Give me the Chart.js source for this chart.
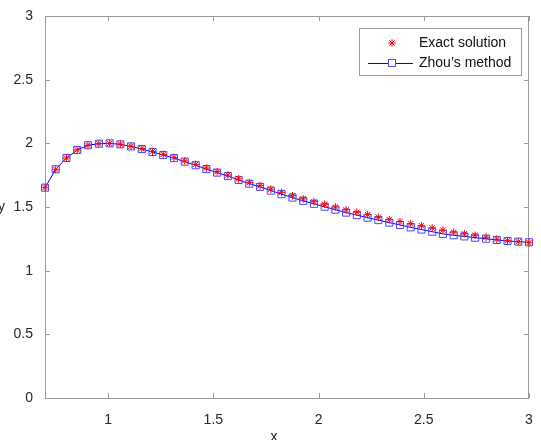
<!DOCTYPE html>
<html>
<head>
<meta charset="utf-8">
<script src="https://cdn.jsdelivr.net/npm/chart.js@4.4.1/dist/chart.umd.min.js"></script>
<style>
    html, body { margin: 0; padding: 0; background: #fff; }
    #wrap { width: 541px; height: 440px; }
</style>
</head>
<body>
<div id="wrap"><canvas id="solChart"></canvas></div>
<script>
// sample points (46 evenly spaced points from 0.7 to 3)
const xValues = [0.700, 0.751, 0.802, 0.853, 0.904, 0.956, 1.007, 1.058, 1.109, 1.160,
    1.211, 1.262, 1.313, 1.364, 1.416, 1.467, 1.518, 1.569, 1.620, 1.671,
    1.722, 1.773, 1.824, 1.876, 1.927, 1.978, 2.029, 2.080, 2.131, 2.182,
    2.233, 2.284, 2.336, 2.387, 2.438, 2.489, 2.540, 2.591, 2.642, 2.693,
    2.744, 2.796, 2.847, 2.898, 2.949, 3.000];

const exactValues = [1.652, 1.796, 1.885, 1.948, 1.985, 1.997, 2.000, 1.993, 1.978, 1.958,
    1.936, 1.913, 1.889, 1.862, 1.835, 1.806, 1.778, 1.751, 1.721, 1.692,
    1.667, 1.640, 1.615, 1.589, 1.564, 1.542, 1.521, 1.500, 1.478, 1.459,
    1.440, 1.420, 1.401, 1.386, 1.369, 1.353, 1.336, 1.318, 1.302, 1.290,
    1.278, 1.262, 1.247, 1.235, 1.227, 1.220];

const zhouValues = [1.652, 1.796, 1.885, 1.948, 1.985, 1.997, 2.000, 1.992, 1.976, 1.955,
    1.932, 1.908, 1.884, 1.856, 1.828, 1.798, 1.770, 1.743, 1.712, 1.683,
    1.658, 1.629, 1.601, 1.574, 1.548, 1.525, 1.502, 1.479, 1.456, 1.436,
    1.416, 1.397, 1.377, 1.359, 1.340, 1.323, 1.306, 1.289, 1.278, 1.269,
    1.259, 1.251, 1.241, 1.233, 1.228, 1.223];

const xTicks = [1, 1.5, 2, 2.5, 3];
const yTicks = [0, 0.5, 1, 1.5, 2, 2.5, 3];
const seriesNames = ['Exact solution', 'Zhou\u2019s method'];
const axisTitles = ['x', 'y'];

const FONT = '"Liberation Sans", Arial, sans-serif';
const FRAME = '#9a9a9a';
const TEXT = '#262626';

function toPoints(ys) {
    return xValues.map((x, i) => ({ x: x, y: ys[i] }));
}

// box around the axes, inward tick marks
const framePlugin = {
    id: 'frame',
    beforeDatasetsDraw(chart) {
        const { ctx, chartArea: a, scales } = chart;
        ctx.save();
        ctx.strokeStyle = FRAME;
        ctx.lineWidth = 1;
        ctx.strokeRect(a.left + 0.5, a.top + 0.5, a.right - a.left - 1, a.bottom - a.top);
        ctx.beginPath();
        scales.x.ticks.forEach(t => {
            const px = Math.round(scales.x.getPixelForValue(t.value)) + 0.5;
            ctx.moveTo(px, a.bottom); ctx.lineTo(px, a.bottom - 5);
            ctx.moveTo(px, a.top); ctx.lineTo(px, a.top + 5);
        });
        scales.y.ticks.forEach(t => {
            const py = Math.round(scales.y.getPixelForValue(t.value)) + 0.5;
            ctx.moveTo(a.left, py); ctx.lineTo(a.left + 5, py);
            ctx.moveTo(a.right, py); ctx.lineTo(a.right - 5, py);
        });
        ctx.stroke();
        ctx.restore();
    },
    afterDraw(chart) {
        const { ctx, chartArea: a } = chart;
        ctx.save();
        // axis titles
        ctx.fillStyle = TEXT;
        ctx.font = '14px ' + FONT;
        ctx.textAlign = 'center';
        ctx.textBaseline = 'alphabetic';
        ctx.fillText(axisTitles[0], 274, 440.5);
        ctx.fillText(axisTitles[1], 1.5, 211);

        // legend box
        const bx = a.right - 170, by = a.top + 12, bw = 162, bh = 47;
        ctx.fillStyle = '#fff';
        ctx.fillRect(bx, by, bw, bh);
        ctx.strokeStyle = FRAME;
        ctx.strokeRect(bx + 0.5, by + 0.5, bw, bh);

        const ds = chart.data.datasets;
        const rows = [by + 15, by + 35];
        const mx = bx + 33;
        // exact solution: star only
        ctx.strokeStyle = ds[0].borderColor;
        ctx.lineWidth = 1;
        Chart.helpers.drawPoint(ctx, { pointStyle: 'star', radius: ds[0].pointRadius, rotation: 0, borderWidth: 1 }, mx, rows[0]);
        // zhou: line + square
        ctx.strokeStyle = ds[1].borderColor;
        ctx.beginPath();
        ctx.moveTo(bx + 9, rows[1] + 0.5);
        ctx.lineTo(bx + 54, rows[1] + 0.5);
        ctx.stroke();
        ctx.strokeStyle = ds[1].pointBorderColor;
        Chart.helpers.drawPoint(ctx, { pointStyle: 'rect', radius: ds[1].pointRadius, rotation: 0, borderWidth: 1 }, mx, rows[1]);

        ctx.fillStyle = '#111';
        ctx.font = '14px ' + FONT;
        ctx.textAlign = 'left';
        ctx.textBaseline = 'middle';
        ctx.fillText(seriesNames[0], bx + 60, rows[0]);
        ctx.fillText(seriesNames[1], bx + 60, rows[1]);
        ctx.restore();
    }
};

function renderChart() {
    const ctx = document.getElementById('solChart').getContext('2d');
    new Chart(ctx, {
        type: 'scatter',
        data: {
            datasets: [
                {
                    label: seriesNames[0],
                    data: toPoints(exactValues),
                    showLine: false,
                    pointStyle: 'star',
                    pointRadius: 3.8,
                    pointBorderWidth: 1,
                    borderColor: 'rgb(255, 0, 0)',
                    backgroundColor: 'rgb(255, 0, 0)',
                    clip: false
                },
                {
                    label: seriesNames[1],
                    data: toPoints(zhouValues),
                    showLine: true,
                    tension: 0,
                    borderWidth: 1,
                    borderColor: 'rgb(0, 0, 255)',
                    backgroundColor: 'rgba(0, 0, 0, 0)',
                    pointBorderColor: 'rgb(70, 70, 255)',
                    pointStyle: 'rect',
                    pointRadius: 5,
                    pointBorderWidth: 1,
                    clip: false
                }
            ]
        },
        options: {
            responsive: true,
            maintainAspectRatio: false,
            animation: false,
            events: [],
            layout: { padding: { top: 16, right: 12, left: 0, bottom: 0 } },
            plugins: { legend: { display: false }, tooltip: { enabled: false } },
            scales: {
                x: {
                    type: 'linear',
                    min: 0.7,
                    max: 3,
                    grid: { display: false },
                    border: { display: false },
                    afterBuildTicks: (scale) => { scale.ticks = xTicks.map(v => ({ value: v })); },
                    afterFit: (scale) => { scale.height = 42; },
                    ticks: {
                        color: TEXT,
                        padding: 6,
                        maxRotation: 0,
                        font: { family: FONT, size: 14 },
                        callback: (v) => String(v)
                    }
                },
                y: {
                    type: 'linear',
                    min: 0,
                    max: 3,
                    grid: { display: false },
                    border: { display: false },
                    afterBuildTicks: (scale) => { scale.ticks = yTicks.map(v => ({ value: v })); },
                    afterFit: (scale) => { scale.width = 45; },
                    ticks: {
                        color: TEXT,
                        padding: 4,
                        font: { family: FONT, size: 14 },
                        callback: (v) => String(v)
                    }
                }
            }
        },
        plugins: [framePlugin]
    });
}

document.addEventListener('DOMContentLoaded', function () {
    renderChart();
});
</script>
</body>
</html>
